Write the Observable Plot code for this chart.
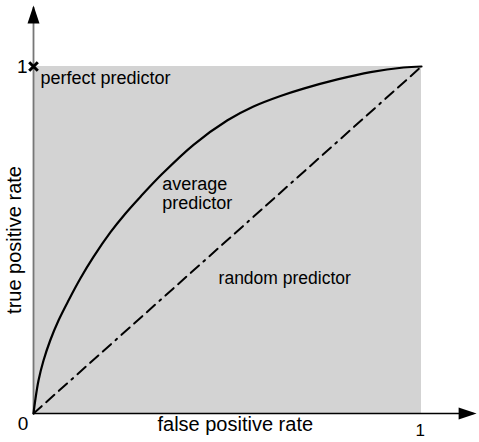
<!DOCTYPE html>
<html>
<head>
<meta charset="utf-8">
<script src="https://cdn.jsdelivr.net/npm/d3@7"></script>
<script src="https://cdn.jsdelivr.net/npm/@observablehq/plot@0.6"></script>
<style>
  body { margin: 0; background: #fff; }
  #chart svg { display: block; }
</style>
</head>
<body>
<div id="chart"></div>
<script>
// ROC curve of the "average predictor" (false positive rate, true positive rate)
const fpr = [0, 0.0044, 0.0129, 0.0258, 0.0430, 0.0644, 0.0902, 0.1211, 0.1546, 0.1985, 0.2371, 0.2758, 0.3325, 0.4124, 0.5000, 0.5670, 0.6366, 0.6959, 0.7835, 0.8686, 0.9536, 1.0];
const tpr = [0, 0.0375, 0.0951, 0.1527, 0.2104, 0.2680, 0.3256, 0.3896, 0.4513, 0.5225, 0.5764, 0.6248, 0.6914, 0.7744, 0.8450, 0.8847, 0.9150, 0.9363, 0.9628, 0.9839, 0.9971, 1.0];
// random predictor diagonal
const randomFpr = [0, 1];
const randomTpr = [0, 1];
// perfect predictor point
const perfectFpr = [0];
const perfectTpr = [1];
// unit square
const unit = [0, 1];
const tickLabels = ["0", "1"];
const axisTitles = ["false positive rate", "true positive rate"];
const annotations = ["perfect predictor", "average\npredictor", "random predictor"];

const curve = fpr.map((x, i) => ({x, y: tpr[i]}));
const diag = randomFpr.map((x, i) => ({x, y: randomTpr[i]}));

const arrowHead = {
  draw(context) {
    context.moveTo(0, 0);
    context.lineTo(-6, 18);
    context.lineTo(6, 18);
    context.closePath();
  }
};

const font = "'Liberation Sans', Arial, sans-serif";

const chart = Plot.plot({
  width: 479,
  height: 442,
  marginLeft: 33,
  marginRight: 58,
  marginTop: 66,
  marginBottom: 29,
  style: {fontFamily: font, background: "#fff"},
  x: {domain: unit, axis: null},
  y: {domain: unit, axis: null},
  marks: [
    Plot.rect([unit], {x1: d => d[0], x2: d => d[1], y1: d => d[0], y2: d => d[1], fill: "#d3d3d3"}),
    // axes
    Plot.ruleY([unit[0]], {x1: unit[0], x2: 1.135, stroke: "#000", strokeWidth: 1.5}),
    Plot.ruleX([unit[0]], {y1: unit[0], y2: 1.17, stroke: "#777", strokeWidth: 1.8}),
    Plot.dot([{x: 1.142, y: 0}], {x: "x", y: "y", symbol: arrowHead, fill: "#000", stroke: null, rotate: 90, r: 5}),
    Plot.dot([{x: 0, y: 1.176}], {x: "x", y: "y", symbol: arrowHead, fill: "#000", stroke: null, r: 5}),
    // random predictor
    Plot.line(diag, {x: "x", y: "y", stroke: "#000", strokeWidth: 2, strokeDasharray: "11,6,11,6,11,6,2,6"}),
    // average predictor
    Plot.line(curve, {x: "x", y: "y", stroke: "#000", strokeWidth: 2.2, curve: "catmull-rom"}),
    // perfect predictor
    Plot.dot(perfectFpr.map((x, i) => ({x, y: perfectTpr[i]})), {x: "x", y: "y", symbol: "times", r: 4, stroke: "#000", strokeWidth: 3}),
    // tick labels
    Plot.text([tickLabels[0]], {x: -0.027, y: -0.029, text: d => d, fontSize: 19, fill: "#000"}),
    Plot.text([tickLabels[1]], {x: 0.997, y: -0.049, text: d => d, fontSize: 17, fill: "#000"}),
    Plot.text([tickLabels[1]], {x: -0.0155, y: 1.0, text: d => d, fontSize: 19, textAnchor: "end", fill: "#000"}),
    // axis titles
    Plot.text([axisTitles[0]], {x: 0.52, y: -0.032, text: d => d, fontSize: 20, fill: "#000"}),
    Plot.text([axisTitles[1]], {x: -0.049, y: 0.5, text: d => d, fontSize: 20, fill: "#000", rotate: -90}),
    // annotations
    Plot.text([annotations[0]], {x: 0.018, y: 0.965, text: d => d, fontSize: 18, textAnchor: "start", fill: "#000"}),
    Plot.text([annotations[1]], {x: 0.332, y: 0.635, text: d => d, fontSize: 18, textAnchor: "start", lineHeight: 1.08, fill: "#000"}),
    Plot.text([annotations[2]], {x: 0.477, y: 0.389, text: d => d, fontSize: 17.5, textAnchor: "start", fill: "#000"})
  ]
});
document.getElementById("chart").appendChild(chart);
</script>
</body>
</html>
